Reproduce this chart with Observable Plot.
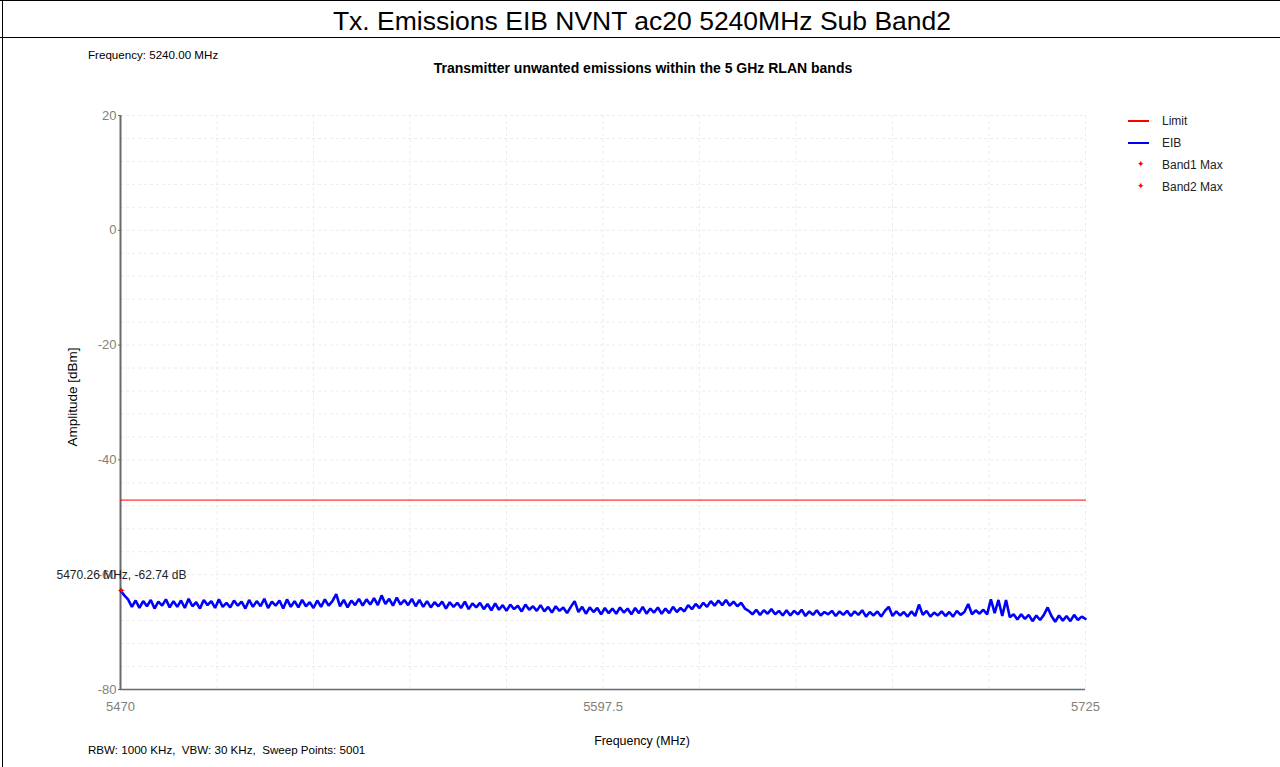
<!DOCTYPE html>
<html>
<head>
<meta charset="utf-8">
<script src="https://cdn.jsdelivr.net/npm/d3@7"></script>
<script src="https://cdn.jsdelivr.net/npm/@observablehq/plot@0.6"></script>
<style>
  html, body { margin: 0; padding: 0; background: #fff; }
  #page { position: relative; width: 1280px; height: 767px; overflow: hidden; font-family: "Liberation Sans", Arial, sans-serif; color: #000; }
  .abs { position: absolute; white-space: pre; }
  .hline { position: absolute; left: 0; width: 1280px; height: 1px; background: #000; }
  .vline { position: absolute; top: 0; width: 1px; height: 767px; background: #000; }
  .leg { font-size: 12px; color: #222; }
  .sw { position: absolute; width: 21px; height: 2px; }
  .star { position: absolute; font-family: "DejaVu Sans", sans-serif; font-size: 9px; color: #ff0000; }
</style>
</head>
<body>
<div id="page">
  <div class="hline" style="top:0px;"></div>
  <div class="hline" style="top:37px;"></div>
  <div class="vline" style="left:2px;"></div>
  <div class="abs" id="title" style="top:6px; left:0; width:1284px; text-align:center; font-size:26.5px;"></div>
  <div class="abs" id="freqNote" style="top:48px; left:88px; font-size:11.6px;"></div>
  <div class="abs" id="subtitle" style="top:60px; left:0; width:1286px; text-align:center; font-size:14px; font-weight:bold;"></div>
  <div class="abs" id="bwNote" style="top:743px; left:88px; font-size:11.6px;"></div>
  <div class="abs" id="xlabel" style="top:734px; left:0; width:1284px; text-align:center; font-size:12.4px;"></div>
  <div class="abs" id="ylabel" style="top:397px; left:72px; font-size:13.5px; transform: translate(-50%, -50%) rotate(-90deg);"></div>
  <div id="legend"></div>
  <div id="chart" style="position:absolute; top:38px; left:0;"></div>
</div>
<script>
// ---- text ----
const titleText = "Tx. Emissions EIB NVNT ac20 5240MHz Sub Band2";
const subtitleText = "Transmitter unwanted emissions within the 5 GHz RLAN bands";
const freqNoteText = "Frequency: 5240.00 MHz";
const bwNoteText = "RBW: 1000 KHz,  VBW: 30 KHz,  Sweep Points: 5001";
const xLabelText = "Frequency (MHz)";
const yLabelText = "Amplitude [dBm]";

// ---- axes ----
const xTicks = [5470, 5597.5, 5725];
const yTicks = [-80, -60, -40, -20, 0, 20];
const xGrid = [5495.5, 5521, 5546.5, 5572, 5597.5, 5623, 5648.5, 5674, 5699.5, 5725];
const yGrid = [-76, -72, -68, -64, -60, -56, -52, -48, -44, -40, -36, -32, -28, -24, -20, -16, -12, -8, -4, 0, 4, 8, 12, 16, 20];

// ---- series ----
const seriesNames = ["Limit", "EIB", "Band1 Max", "Band2 Max"];
const seriesColors = ["#ff0000", "#0000ff", "#ff0000", "#ff0000"];
const limitFreq = [5470, 5725];
const limitLevel = [-47, -47];
const eibStartFreq = 5470;   // sweep grid start (MHz)
const eibStepFreq = 1;       // sweep grid step (MHz)
const eibLevels = [
  -62.74, -63.6, -64.3, -65.6, -64.5, -65.8, -64.6, -65.5, -64.4, -65.9, -64.7, -65.4, -64.3, -65.7, -64.6, -65.6,
  -64.5, -65.8, -64.2, -65.5, -64.8, -65.9, -64.4, -65.3, -64.6, -65.8, -64.3, -65.6, -64.9, -65.7, -64.5, -65.4,
  -64.7, -65.9, -64.4, -65.6, -64.6, -65.5, -64.2, -65.8, -64.7, -65.4, -64.5, -65.9, -64.3, -65.6, -64.6, -65.7,
  -64.4, -65.5, -64.8, -65.8, -64.5, -65.6, -64.3, -65.4, -64.6, -63.4, -65.5, -64.4, -65.7, -64.5, -65.3, -64.2,
  -65.4, -64.3, -65.2, -64.1, -65.3, -63.6, -65.1, -64.2, -65.4, -64.0, -65.2, -64.4, -65.3, -64.2, -65.5, -64.4,
  -65.6, -64.6, -65.7, -64.8, -65.5, -64.7, -65.9, -64.8, -65.6, -64.9, -65.8, -64.7, -66.0, -65.0, -65.7, -64.9,
  -66.0, -65.1, -66.2, -65.0, -66.1, -65.3, -66.3, -65.2, -66.0, -65.4, -66.4, -65.2, -66.1, -65.5, -66.3, -65.3,
  -66.4, -65.6, -66.6, -65.5, -66.3, -65.7, -66.7, -65.6, -64.6, -66.5, -65.6, -66.8, -65.7, -66.5, -65.8, -66.9,
  -65.8, -66.7, -65.9, -66.8, -65.7, -66.6, -65.9, -66.9, -65.8, -66.7, -65.6, -66.8, -65.9, -66.6, -65.7, -66.8,
  -65.9, -66.7, -65.6, -66.5, -65.8, -66.4, -65.3, -66.0, -65.1, -65.8, -64.9, -65.6, -64.6, -65.4, -64.5, -65.3,
  -64.4, -65.4, -64.7, -65.5, -64.9, -65.9, -66.3, -66.9, -66.1, -67.0, -66.2, -66.8, -66.0, -66.9, -66.3, -67.1,
  -66.2, -67.1, -66.3, -66.9, -66.1, -67.2, -66.4, -67.0, -66.2, -67.1, -66.5, -66.9, -66.3, -67.2, -66.4, -67.0,
  -66.3, -67.2, -66.4, -67.0, -66.2, -67.3, -66.5, -67.1, -66.4, -67.3, -66.3, -65.6, -67.2, -66.4, -67.1, -66.5,
  -67.3, -66.4, -67.2, -65.2, -67.0, -66.3, -67.3, -66.6, -67.1, -66.4, -67.2, -66.5, -67.3, -66.3, -67.0, -66.5,
  -65.1, -66.9, -66.2, -66.8, -66.1, -66.9, -64.3, -66.7, -64.4, -67.2, -64.4, -67.4, -66.9, -67.8, -66.9, -67.7,
  -67.0, -68.1, -67.1, -67.9, -67.0, -65.7, -67.2, -68.2, -67.1, -68.0, -67.2, -68.1, -67.0, -67.9, -67.3, -67.7
];
const markerFreq = [5470.26];
const markerLevel = [-62.74];
const markerLabel = ["5470.26 MHz, -62.74 dB"];

// ---- build tables ----
const eib = eibLevels.map((v, i) => ({f: eibStartFreq + i * eibStepFreq, v}));
const limit = limitFreq.map((f, i) => ({f, v: limitLevel[i]}));
const markers = markerFreq.map((f, i) => ({f, v: markerLevel[i], label: markerLabel[i]}));

document.getElementById("title").textContent = titleText;
document.getElementById("subtitle").textContent = subtitleText;
document.getElementById("freqNote").textContent = freqNoteText;
document.getElementById("bwNote").textContent = bwNoteText;
document.getElementById("xlabel").textContent = xLabelText;
document.getElementById("ylabel").textContent = yLabelText;

// legend
const legend = document.getElementById("legend");
seriesNames.forEach((name, i) => {
  const top = 114 + i * 22;
  if (i < 2) {
    const sw = document.createElement("div");
    sw.className = "sw";
    sw.style.left = "1128px"; sw.style.top = (top + 6) + "px"; sw.style.background = seriesColors[i];
    legend.appendChild(sw);
  } else {
    const st = document.createElement("div");
    st.className = "star abs";
    st.style.left = "1137px"; st.style.top = (top + 1) + "px";
    st.textContent = "\u2726";
    legend.appendChild(st);
  }
  const t = document.createElement("div");
  t.className = "abs leg";
  t.style.left = "1162px"; t.style.top = top + "px";
  t.textContent = name;
  legend.appendChild(t);
});

const tickColor = "#858078";
const chart = Plot.plot({
  width: 1280,
  height: 729,
  marginTop: 77,
  marginBottom: 78,
  marginLeft: 120,
  marginRight: 195,
  style: {fontFamily: "'Liberation Sans', Arial, sans-serif", fontSize: "13px", background: "transparent"},
  x: {domain: [5470, 5725]},
  y: {domain: [-80, 20]},
  marks: [
    Plot.gridY(yGrid, {stroke: "#ececec", strokeOpacity: 1, strokeDasharray: "3,3"}),
    Plot.gridX(xGrid, {stroke: "#ececec", strokeOpacity: 1, strokeDasharray: "3,3"}),
    Plot.axisY(yTicks, {tickSize: 2, tickPadding: 2, color: tickColor, stroke: "#666", label: null, tickFormat: d => String(d)}),
    Plot.axisX(xTicks, {tickSize: 0, tickPadding: 12, color: tickColor, label: null, tickFormat: d => String(d)}),
    Plot.ruleX([5470], {stroke: "#6a6a6a", strokeWidth: 2}),
    Plot.ruleY([-80], {stroke: "#6a6a6a", strokeWidth: 1.5}),
    Plot.line(limit, {x: "f", y: "v", stroke: seriesColors[0], strokeWidth: 1}),
    Plot.line(eib, {x: "f", y: "v", stroke: seriesColors[1], strokeWidth: 2.6, strokeLinejoin: "miter"}),
    Plot.text(markers, {x: "f", y: "v", text: () => "\u2726", fill: seriesColors[2], fontSize: 10, fontFamily: "DejaVu Sans"}),
    Plot.text(markers, {x: "f", y: "v", text: "label", dy: -15, fill: "#222", fontSize: 12})
  ]
});
document.getElementById("chart").appendChild(chart);
</script>
</body>
</html>
